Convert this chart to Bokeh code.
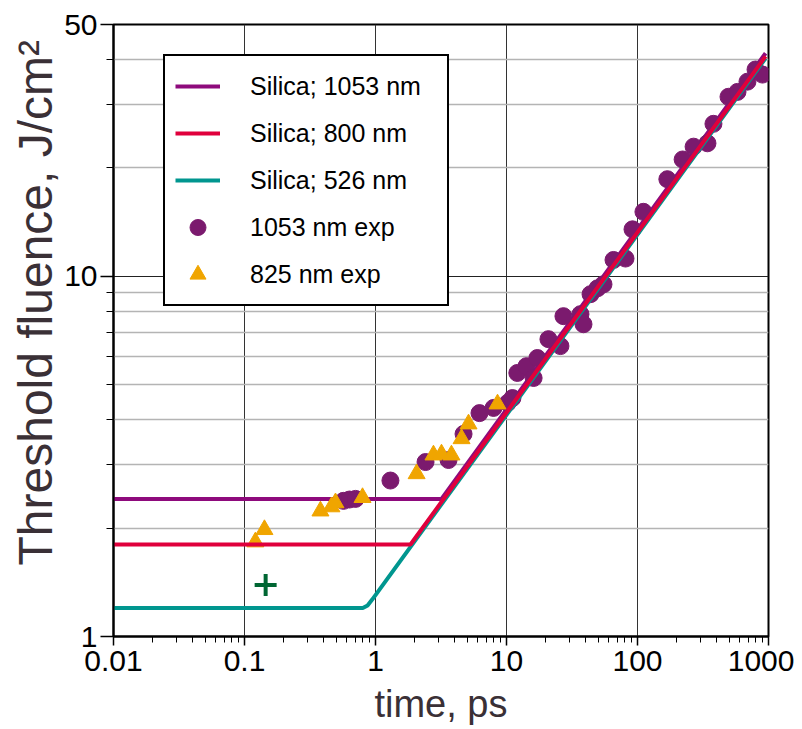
from bokeh.plotting import figure
from bokeh.models import FixedTicker, CustomJSTickFormatter, Legend, LegendItem, Title
from bokeh.embed import file_html
from bokeh.resources import INLINE

# ---- model curves (time in ps, fluence in J/cm^2) ----
t_1053 = [0.01, 3.19, 950]
f_1053 = [2.41, 2.41, 41.6]
t_800 = [0.01, 1.85, 950]
f_800 = [1.80, 1.80, 40.8]
t_526 = [0.01, 0.80, 0.87, 0.95, 950]
f_526 = [1.20, 1.20, 1.22, 1.27, 40.3]

# ---- experimental points ----
exp1053_t = [0.570, 0.633, 0.704, 1.30, 2.41, 3.61, 4.70, 6.22, 7.96, 10.2, 11.1,
             12.1, 14.2, 16.1, 17.2, 20.9, 25.8, 27.2, 36.7, 38.7, 43.8, 49.5, 55.0,
             65.6, 81.0, 91.6, 111, 169, 221, 268, 342, 380, 495, 580, 691, 796, 900]
exp1053_f = [2.38, 2.40, 2.41, 2.71, 3.05, 3.09, 3.65, 4.17, 4.31, 4.45, 4.59,
             5.39, 5.63, 5.22, 5.93, 6.69, 6.40, 7.75, 7.85, 7.36, 8.92, 9.26, 9.50,
             11.1, 11.2, 13.5, 15.1, 18.6, 21.1, 22.9, 23.4, 26.5, 31.5, 32.5, 34.7, 37.5, 36.3]
exp825_t = [0.121, 0.142, 0.380, 0.461, 0.495, 0.796, 2.06, 2.77, 3.19, 3.80, 4.54, 5.13, 8.54]
exp825_f = [1.83, 1.98, 2.23, 2.29, 2.35, 2.43, 2.83, 3.19, 3.21, 3.19, 3.54, 3.89, 4.42]
plus_t = [0.145]
plus_f = [1.39]

x_ticks = [0.01, 0.1, 1, 10, 100, 1000]
y_ticks = [1, 10, 50]
y_minor = [2, 3, 4, 5, 6, 7, 8, 9, 20, 30, 40]
x_minor = [m * 10.0 ** e for e in range(-2, 3) for m in range(2, 10)]

legend_labels = ["Silica; 1053 nm", "Silica; 800 nm", "Silica; 526 nm", "1053 nm exp", "825 nm exp"]

p = figure(x_axis_type="log", y_axis_type="log", x_range=(0.01, 1000), y_range=(1, 50),
           frame_width=655, frame_height=612,
           min_border_left=113, min_border_right=26, min_border_top=24, min_border_bottom=92,
           output_backend="svg", toolbar_location=None)
p.background_fill_color = "white"
p.border_fill_color = "white"
p.outline_line_color = "black"
p.outline_line_width = 2
p.outline_line_alpha = 1

p.xaxis.ticker = FixedTicker(ticks=x_ticks, minor_ticks=x_minor)
p.yaxis.ticker = FixedTicker(ticks=y_ticks, minor_ticks=y_minor)
p.xaxis.formatter = CustomJSTickFormatter(code="return tick.toString();")
p.yaxis.formatter = CustomJSTickFormatter(code="return tick.toString();")

for ax in (p.xaxis[0], p.yaxis[0]):
    ax.axis_line_width = 2
    ax.axis_line_color = "black"
    ax.major_tick_in = 0
    ax.minor_tick_in = 0
    ax.major_tick_line_color = "black"
    ax.minor_tick_line_color = "black"
    ax.major_tick_line_width = 1.5
    ax.minor_tick_line_width = 1
    ax.major_label_text_color = "black"
    ax.axis_label_text_font_style = "normal"
    ax.axis_label_text_color = "#3a3036"

p.xaxis.major_tick_out = 9
p.xaxis.minor_tick_out = 6
p.xaxis.major_label_text_font = "Liberation Sans"
p.xaxis.major_label_text_font_size = "30px"
p.xaxis.major_label_standoff = 5
p.xaxis.axis_label = "time, ps"
p.xaxis.axis_label_text_font = "Liberation Sans"
p.xaxis.axis_label_text_font_size = "38px"
p.xaxis.axis_label_standoff = 9

p.yaxis.major_tick_out = 13
p.yaxis.minor_tick_out = 7
p.yaxis.major_label_text_font = "Liberation Sans"
p.yaxis.major_label_text_font_size = "30px"
p.yaxis.major_label_standoff = 3

ytitle = Title(text="Threshold fluence, J/cm\u00b2", align="left", offset=71,
               text_font="Liberation Sans", text_font_size="48px", text_font_style="normal",
               text_color="#3a3036", standoff=0)
p.add_layout(ytitle, "left")

p.xgrid.grid_line_color = "#333333"
p.xgrid.grid_line_width = 1
p.xgrid.minor_grid_line_color = None
p.ygrid.grid_line_color = "#222222"
p.ygrid.grid_line_width = 1
p.ygrid.minor_grid_line_color = "#b4b4b4"
p.ygrid.minor_grid_line_width = 1.5

r1053 = p.line(t_1053, f_1053, line_color="#8E0A7C", line_width=4)
rc = p.scatter(exp1053_t, exp1053_f, marker="circle", size=17, fill_color="#7B1A6E", line_color="#7B1A6E")
rt = p.scatter(exp825_t, exp825_f, marker="triangle", size=17, fill_color="#F0A500", line_color="#F0A500")
r526 = p.line(t_526, f_526, line_color="#00968F", line_width=4)
r800 = p.line(t_800, f_800, line_color="#E0003C", line_width=4)
p.scatter(plus_t, plus_f, marker="cross", size=22, line_width=4, line_color="#006633")

legend = Legend(items=[
    LegendItem(label=legend_labels[0], renderers=[r1053]),
    LegendItem(label=legend_labels[1], renderers=[r800]),
    LegendItem(label=legend_labels[2], renderers=[r526]),
    LegendItem(label=legend_labels[3], renderers=[rc]),
    LegendItem(label=legend_labels[4], renderers=[rt]),
], location=(50, 330))
legend.margin = 0
legend.padding = 10
legend.spacing = 7
legend.glyph_width = 45
legend.glyph_height = 40
legend.label_height = 40
legend.label_width = 187
legend.label_standoff = 30
legend.label_text_font = "Liberation Sans"
legend.label_text_font_size = "25px"
legend.label_text_color = "black"
legend.border_line_color = "black"
legend.border_line_width = 2
legend.border_line_alpha = 1
legend.background_fill_color = "white"
legend.background_fill_alpha = 1
p.add_layout(legend)

open("out.html", "w").write(file_html(p, INLINE))
